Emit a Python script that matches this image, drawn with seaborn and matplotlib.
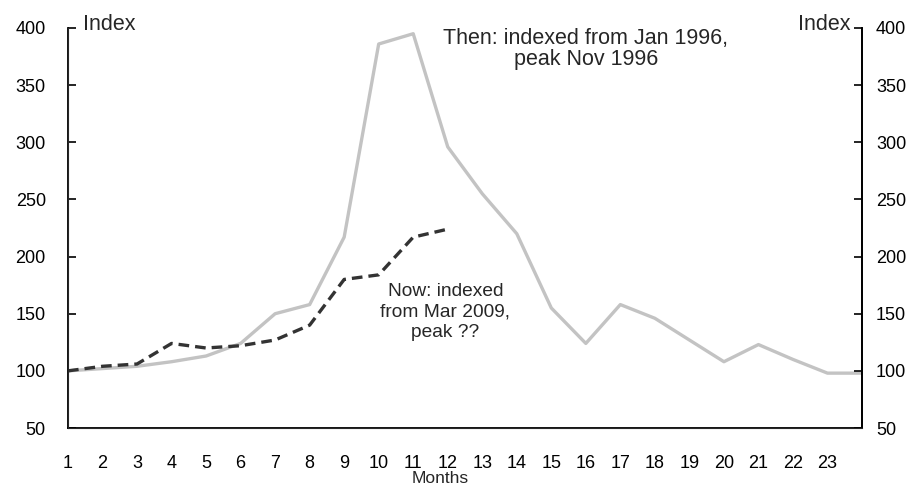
import numpy as np
import pandas as pd
import seaborn as sns
import matplotlib.pyplot as plt

# months since start of each episode
then_months = list(range(1, 25))
then_index = [100, 102, 104, 108, 113, 124, 150, 158, 217, 386, 395, 296,
              255, 220, 155, 124, 158, 146, 127, 108, 123, 110, 98, 98]
now_months = list(range(1, 13))
now_index = [100, 104, 106, 124, 120, 122, 127, 140, 180, 184, 217, 224]

x_ticks = list(range(1, 25))
x_labels = [str(m) for m in range(1, 24)] + ['']
y_ticks = [50, 100, 150, 200, 250, 300, 350, 400]

sns.set_style('white')
plt.rcParams['font.family'] = ['Liberation Sans', 'DejaVu Sans']

then_df = pd.DataFrame({'month': then_months, 'index': then_index})
now_df = pd.DataFrame({'month': now_months, 'index': now_index})

fig = plt.figure(figsize=(9.21, 4.86), dpi=100)
ax = fig.add_axes([68 / 921, 1 - 428 / 486, (862 - 68) / 921, (428 - 28) / 486])

sns.lineplot(then_df, x='month', y='index', ax=ax, color='#c3c3c3', lw=2.4)
sns.lineplot(now_df, x='month', y='index', ax=ax, color='#333333', lw=2.4,
             linestyle=(0, (3.2, 1.8)))

ax.set_xlim(1, 24)
ax.set_ylim(50, 400)
ax.set_xticks(x_ticks)
ax.set_xticklabels(x_labels)
ax.set_yticks(y_ticks)
ax.set_xlabel('Months', fontsize=12.5, va='center')
ax.xaxis.set_label_coords((440 - 68) / 794, -(478 - 428) / 400)
ax.set_ylabel('')

for s in ['left', 'bottom', 'right']:
    ax.spines[s].set_color('black')
    ax.spines[s].set_linewidth(1.3)
ax.spines['top'].set_visible(False)
ax.tick_params(axis='y', direction='in', length=6, width=1.2, pad=16, labelsize=13, colors='black')
ax.tick_params(axis='x', direction='in', length=6, width=1.2, pad=19.5, labelsize=13, colors='black')

ax2 = ax.twinx()
ax2.set_ylim(50, 400)
ax2.set_yticks(y_ticks)
ax2.spines['top'].set_visible(False)
ax2.spines['right'].set_color('black')
ax2.spines['right'].set_linewidth(1.3)
ax2.tick_params(axis='y', direction='in', length=6, width=1.2, pad=10, labelsize=13, colors='black')

fig.text(83 / 921, 1 - 25 / 486, 'Index', fontsize=15.5, ha='left', va='center')
fig.text(850 / 921, 1 - 25 / 486, 'Index', fontsize=15.5, ha='right', va='center')

ax.text(16.0, 381.6, 'Then: indexed from Jan 1996,\npeak Nov 1996', fontsize=15.5,
        ha='center', va='center', linespacing=1.0)
ax.text(11.93, 151.5, 'Now: indexed\nfrom Mar 2009,\npeak ??', fontsize=13.8,
        ha='center', va='center', linespacing=1.3)

plt.savefig('out.png', dpi=100)
